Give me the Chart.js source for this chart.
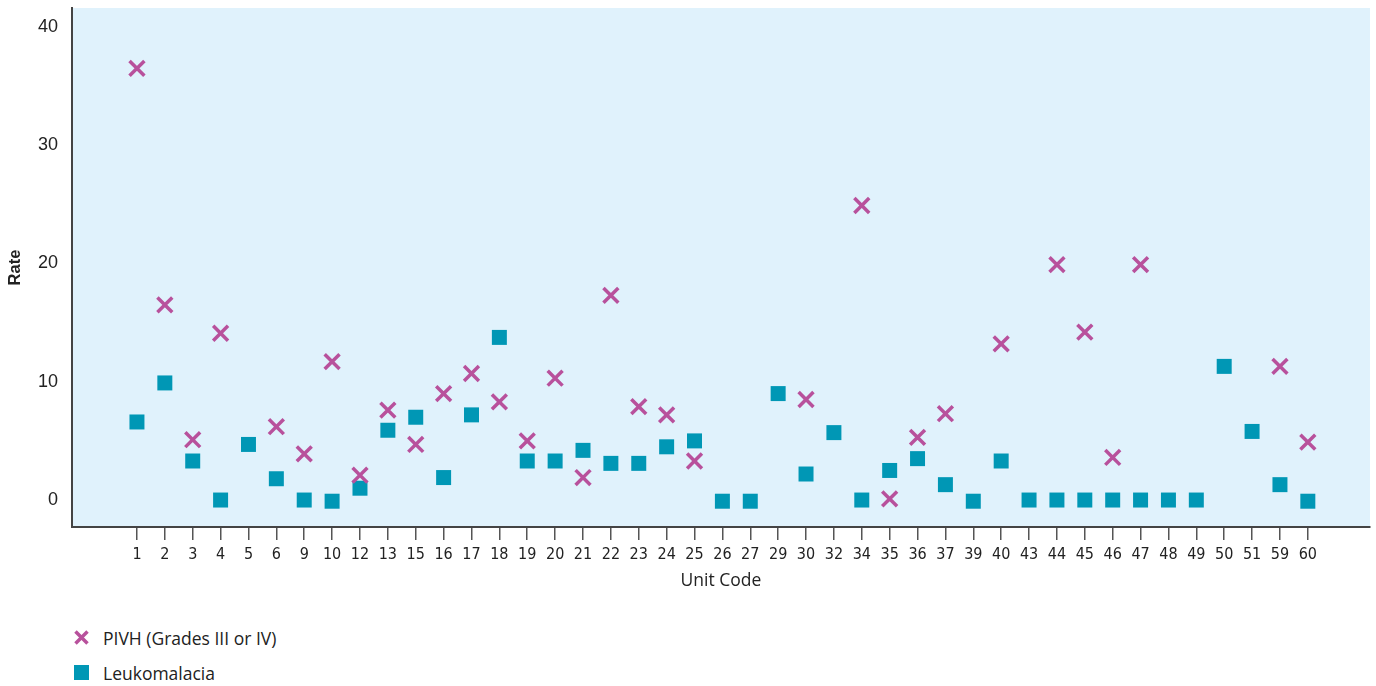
<!DOCTYPE html>
<html>
<head>
<meta charset="utf-8">
<script src="https://cdn.jsdelivr.net/npm/chart.js@4/dist/chart.umd.min.js"></script>
<style>
  body { margin: 0; background: #fff; }
  #wrap { position: relative; width: 1376px; height: 686px; }
  #chart { position: absolute; left: 0; top: 0; }
  .legend { position: absolute; left: 72px; font-family: "Open Sans", sans-serif; font-size: 17.5px; color: #222; }
  .legend div { position: absolute; white-space: nowrap; height: 20px; line-height: 20px; }
  .legend svg { position: absolute; left: 0; top: 0; }
  .legend span { position: absolute; left: 31px; }
</style>
</head>
<body>
<div id="wrap">
  <canvas id="chart" width="1376" height="592"></canvas>
  <div class="legend" id="legend"></div>
</div>
<script>
const units = ["1","2","3","4","5","6","9","10","12","13","15","16","17","18","19","20","21","22","23","24","25","26","27","29","30","32","34","35","36","37","39","40","43","44","45","46","47","48","49","50","51","59","60"];

const pivh = [36.5, 16.5, 5.1, 14.1, null, 6.2, 3.9, 11.7, 2.1, 7.6, 4.7, 9.0, 10.7, 8.3, 5.0, 10.3, 1.9, 17.3, 7.9, 7.2, 3.3, null, null, null, 8.5, null, 24.9, 0.1, 5.3, 7.3, null, 13.2, null, 19.9, 14.2, 3.6, 19.9, null, null, null, null, 11.3, 4.9];

const leuko = [6.6, 9.9, 3.3, 0, 4.7, 1.8, 0, -0.1, 1.0, 5.9, 7.0, 1.9, 7.2, 13.75, 3.3, 3.3, 4.2, 3.1, 3.1, 4.5, 5.0, -0.1, -0.1, 9.0, 2.2, 5.7, 0, 2.5, 3.5, 1.3, -0.1, 3.3, 0, 0, 0, 0, 0, 0, 0, 11.3, 5.8, 1.3, -0.1];

const yTicks = [0, 10, 20, 30, 40];

const pink = "#b8519c";
const teal = "#0097b5";

const toPoints = arr => arr.map((v, i) => ({ x: i, y: v })).filter(p => p.y !== null);

const plotBg = {
  id: "plotBg",
  beforeDraw(chart) {
    const a = chart.chartArea;
    const c = chart.ctx;
    c.save();
    c.fillStyle = "#e0f2fc";
    c.fillRect(a.left, a.top, a.right - a.left, a.bottom - a.top);
    c.restore();
  }
};

new Chart(document.getElementById("chart"), {
  type: "scatter",
  data: {
    datasets: [
      {
        label: "PIVH (Grades III or IV)",
        data: toPoints(pivh),
        pointStyle: "crossRot",
        pointRadius: 10.5,
        pointHoverRadius: 10.5,
        borderColor: pink,
        backgroundColor: pink,
        pointBorderWidth: 3.5
      },
      {
        label: "Leukomalacia",
        data: toPoints(leuko),
        pointStyle: "rect",
        pointRadius: 10.6,
        pointHoverRadius: 10.6,
        borderColor: teal,
        backgroundColor: teal,
        pointBorderWidth: 0
      }
    ]
  },
  options: {
    responsive: false,
    animation: false,
    layout: { autoPadding: false, padding: { top: 8, right: 6, left: 0, bottom: 0 } },
    plugins: {
      legend: { display: false },
      tooltip: { enabled: false }
    },
    scales: {
      x: {
        type: "linear",
        min: -2.33,
        max: 44.23,
        afterBuildTicks: scale => { scale.ticks = units.map((u, i) => ({ value: i })); },
        afterFit: scale => {
          scale.height = 65;
          scale.paddingLeft = 0;
          scale.paddingRight = 0;
        },
        ticks: {
          autoSkip: false,
          maxRotation: 0,
          padding: 5,
          color: "#222",
          font: { family: "'Liberation Sans Narrow', 'DejaVu Sans Condensed', sans-serif", size: 16 },
          callback: v => units[v]
        },
        grid: { drawOnChartArea: false, tickLength: 13, color: "#555", lineWidth: 1.5 },
        border: { color: "#444", width: 2 },
        title: {
          display: true,
          text: "Unit Code",
          color: "#222",
          padding: { top: 0, bottom: 0 },
          font: { family: "'Open Sans', sans-serif", size: 17.5 }
        }
      },
      y: {
        min: -2.28,
        max: 41.6,
        afterBuildTicks: scale => { scale.ticks = yTicks.map(v => ({ value: v })); },
        afterFit: scale => {
          scale.width = 72;
          scale.paddingTop = 0;
          scale.paddingBottom = 0;
        },
        ticks: {
          padding: 14,
          color: "#222",
          font: { family: "'Liberation Sans', Arial, sans-serif", size: 18 }
        },
        grid: { display: false, drawTicks: false },
        border: { color: "#444", width: 2 },
        title: {
          display: true,
          text: "Rate",
          color: "#222",
          padding: { top: 6, bottom: 0 },
          font: { family: "'Liberation Sans', Arial, sans-serif", size: 16.5, weight: "bold" }
        }
      }
    }
  },
  plugins: [plotBg]
});

// legend below the chart, one item per line
const legend = document.getElementById("legend");
legend.innerHTML =
  '<div style="top:628px;left:0">' +
  '<svg width="20" height="20"><path d="M3.5 3.5 L15.5 15.5 M15.5 3.5 L3.5 15.5" stroke="' + pink + '" stroke-width="3.5"/></svg>' +
  '<span>PIVH (Grades III or IV)</span></div>' +
  '<div style="top:663px;left:0">' +
  '<svg width="20" height="20"><rect x="2" y="2" width="15" height="15" fill="' + teal + '"/></svg>' +
  '<span>Leukomalacia</span></div>';
</script>
</body>
</html>
